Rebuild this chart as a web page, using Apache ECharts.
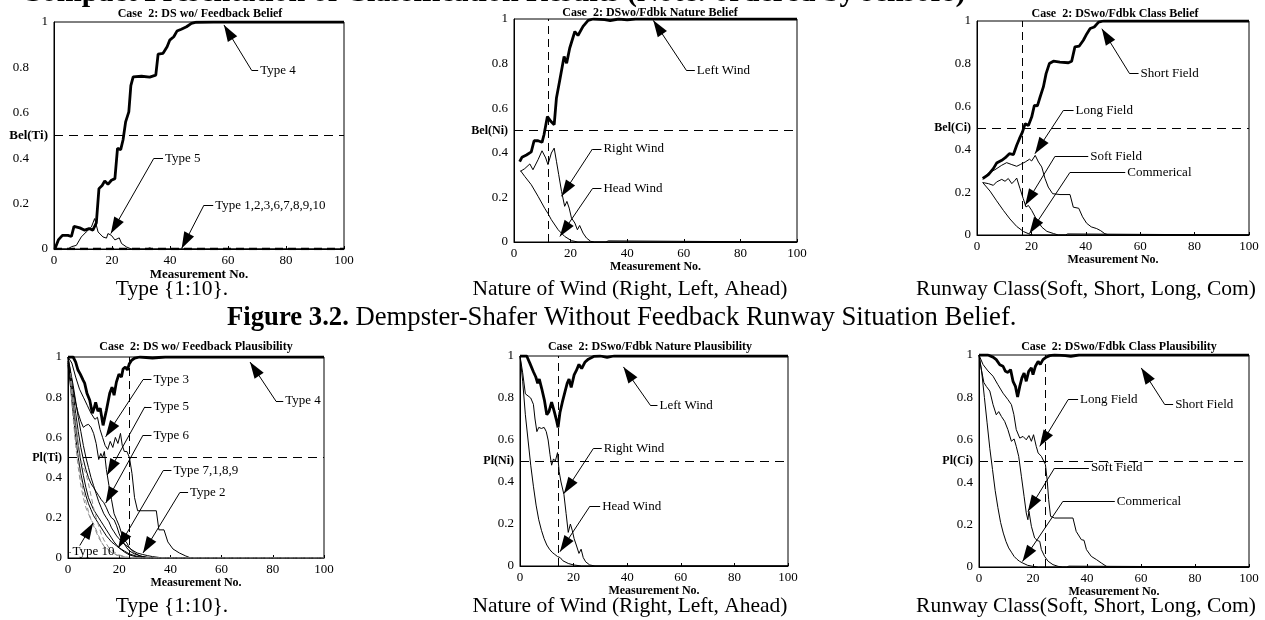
<!DOCTYPE html>
<html>
<head>
<meta charset="utf-8">
<script src="https://cdn.jsdelivr.net/npm/echarts@6/dist/echarts.min.js"></script>
<style>
  html, body { margin: 0; padding: 0; background: #fff; }
  #main { width: 1265px; height: 620px; }
</style>
</head>
<body>
<div id="main"></div>
<script>
// ---------- values ----------
var xTicks = [0, 20, 40, 60, 80, 100];
var yTickLabels = ['0', '0.2', '0.4', '0.6', '0.8', '1'];

// Case 2, DS wo/ feedback belief (type)
var p1Type4 = [[0.3,0],[1.5,0.04],[2.9,0.06],[4.8,0.06],[6,0.055],[6.9,0.1],[8.9,0.093],[10.6,0.083],[12.1,0.09],[13.4,0.083],[14.6,0.115],[15.5,0.266],[16.6,0.28],[17.5,0.3],[18.6,0.285],[19.8,0.303],[21,0.31],[21.9,0.443],[23,0.438],[23.8,0.48],[24.7,0.56],[25.8,0.604],[26.5,0.72],[27.3,0.758],[30.2,0.761],[33,0.757],[35.1,0.766],[35.9,0.858],[37.6,0.862],[39,0.891],[39.9,0.92],[41.3,0.935],[42.4,0.96],[43.9,0.968],[45.7,0.979],[47.4,0.994],[49.1,0.999],[55,1],[100,1]];
var p1Type5 = [[0,0],[4.8,0],[6,0.01],[7.7,0.016],[9.4,0.053],[11.1,0.075],[12.9,0.097],[14,0.134],[15.2,0.075],[16.9,0.053],[18.1,0.048],[18.6,0.068],[19.8,0.06],[21,0.04],[22.5,0.049],[23.3,0.024],[25,0.009],[26.7,0],[32,0],[33,0.005],[34,0],[100,0]];
var p1Rest = [[0,0],[100,0]];

// nature belief
var p2Left = [[2,0.36],[2.8,0.38],[4.4,0.39],[6.1,0.404],[7.1,0.454],[8.5,0.454],[9.9,0.447],[10.6,0.481],[11.8,0.563],[13,0.541],[14.2,0.526],[15,0.646],[16.2,0.728],[17.7,0.832],[18.6,0.802],[19.7,0.87],[21.5,0.944],[22.6,0.926],[24.4,0.967],[26.2,0.994],[28,1],[32,0.997],[34,0.993],[37,1],[40,0.996],[43,1],[100,1]];
var p2Right = [[2.3,0.317],[3.8,0.329],[5.6,0.35],[6.7,0.324],[8.5,0.369],[9.9,0.409],[11.2,0.377],[12,0.347],[13.2,0.399],[14.2,0.421],[15,0.362],[15.8,0.302],[16.8,0.227],[17.9,0.16],[18.7,0.182],[19.5,0.152],[20.3,0.108],[21.5,0.085],[22.4,0.055],[23.2,0.074],[24.4,0.04],[25.6,0.018],[27.1,0.003],[28.5,0],[32.5,0],[33.3,0.005],[34,0],[100,0]];
var p2Head = [[2.3,0.32],[3.8,0.294],[6.1,0.257],[8.5,0.205],[10.9,0.15],[12,0.128],[13.2,0.1],[15.6,0.055],[17.9,0.025],[20.3,0.006],[22.6,0],[100,0]];

// class belief
var p3Short = [[2.1,0.264],[4.2,0.282],[6,0.31],[7.2,0.336],[9.1,0.349],[10.3,0.36],[11.9,0.38],[13.4,0.376],[14.6,0.419],[15.6,0.45],[16.7,0.481],[17.7,0.52],[18.9,0.512],[20.1,0.551],[21.1,0.606],[22.2,0.603],[23.2,0.645],[24.4,0.692],[25.4,0.754],[26.6,0.801],[28.1,0.812],[30.5,0.808],[33.6,0.805],[34.8,0.812],[36,0.879],[37.6,0.883],[39.1,0.91],[40.4,0.941],[41.6,0.965],[43.1,0.972],[44.7,0.995],[46.5,1],[100,1]];
var p3Long = [[2.1,0.26],[4.2,0.29],[6.6,0.305],[9.1,0.326],[10.9,0.338],[12.8,0.329],[14.6,0.321],[16,0.33],[17.7,0.341],[19.3,0.354],[20.1,0.346],[21.4,0.372],[22.6,0.341],[23.8,0.318],[25,0.264],[26.2,0.224],[27.8,0.193],[30.5,0.189],[34.2,0.189],[35.4,0.13],[37.4,0.125],[38.8,0.085],[40.3,0.055],[42,0.038],[44,0.03],[45.5,0.02],[47,0.006],[48.5,0],[100,0]];
var p3Soft = [[2.1,0.245],[4.2,0.24],[6,0.232],[7.2,0.248],[9.1,0.26],[10.3,0.251],[11.5,0.264],[12.8,0.24],[14,0.256],[14.6,0.266],[15.8,0.217],[17,0.17],[18,0.131],[18.9,0.138],[20.1,0.115],[21.4,0.084],[22.6,0.061],[23.8,0.037],[25.7,0.017],[28.1,0.007],[29.9,0],[32.5,0],[33.3,0.005],[34,0],[100,0]];
var p3Com = [[2.1,0.245],[4.8,0.205],[7.2,0.16],[9.7,0.115],[12.1,0.075],[14.6,0.04],[17.1,0.016],[19.5,0.003],[20.7,0],[100,0]];

// type plausibility
var p4Type4 = [[0,1],[2,1],[3,0.975],[3.9,0.935],[4.8,0.915],[5.9,0.885],[6.5,0.87],[7.4,0.82],[8.5,0.785],[9.5,0.72],[10.2,0.745],[10.8,0.775],[11.7,0.73],[12.6,0.745],[13.7,0.66],[15,0.735],[16.3,0.82],[17.2,0.85],[18,0.81],[18.9,0.875],[19.9,0.915],[20.9,0.9],[21.5,0.94],[22.4,0.95],[23.2,0.935],[23.9,0.965],[24.8,0.983],[26.1,0.995],[28,1],[33,0.995],[38,1],[100,1]];
var p4Type3 = [[0,1],[1.5,0.97],[3,0.9],[4.5,0.84],[6,0.8],[7.5,0.76],[9,0.72],[10.5,0.69],[11.5,0.7],[12.5,0.64],[13.5,0.6],[14.5,0.56],[15.5,0.54],[16.5,0.58],[17.5,0.55],[18.5,0.6],[19.5,0.57],[20.5,0.62],[21.2,0.56],[22,0.53],[23,0.53],[24,0.5],[25,0.42],[26,0.3],[27.2,0.235],[34.5,0.235],[35.5,0.14],[37.5,0.14],[39,0.08],[41,0.045],[43.5,0.025],[46,0.01],[48,0],[100,0]];
var p4Type5 = [[0,1],[1,0.92],[2,0.84],[3,0.77],[4,0.72],[5,0.68],[6,0.65],[7,0.66],[8,0.665],[9,0.65],[10,0.62],[11,0.57],[12,0.49],[12.8,0.52],[13.5,0.5],[14.2,0.53],[15,0.44],[16,0.36],[17,0.29],[18,0.22],[19,0.19],[20,0.16],[21,0.12],[22,0.09],[23,0.075],[24,0.05],[26,0.025],[28,0.01],[31,0.002],[34,0],[100,0]];
var p4Type6 = [[0,0.97],[1,0.9],[2,0.82],[3,0.72],[4,0.63],[5,0.55],[6,0.49],[7,0.44],[8,0.4],[9,0.37],[10,0.35],[11,0.33],[12,0.31],[13,0.29],[14,0.275],[15,0.25],[16,0.22],[17,0.2],[18,0.19],[19,0.16],[20,0.12],[21,0.09],[22,0.07],[23,0.05],[24,0.035],[26,0.02],[29,0.008],[33,0],[100,0]];
var p4Type7 = [[0,0.98],[1,0.88],[2,0.77],[3,0.66],[4,0.56],[5,0.48],[6,0.41],[7,0.35],[8,0.3],[9,0.27],[10,0.24],[11,0.22],[12,0.2],[13,0.18],[14,0.16],[15,0.14],[16,0.12],[17,0.1],[18,0.08],[19,0.065],[20,0.05],[21,0.04],[22,0.03],[24,0.015],[27,0.005],[30,0],[100,0]];
var p4Type1 = [[0,0.96],[1,0.85],[2,0.72],[3,0.6],[4,0.5],[5,0.42],[6,0.36],[7,0.31],[8,0.27],[9,0.24],[10,0.21],[11,0.19],[12,0.17],[13,0.15],[14,0.13],[15,0.11],[16,0.095],[17,0.08],[18,0.07],[19,0.06],[20,0.05],[22,0.035],[24,0.02],[27,0.008],[31,0],[100,0]];
var p4Type2 = [[0,1],[1,0.93],[2,0.86],[3,0.78],[4,0.7],[5,0.63],[6,0.56],[7,0.5],[8,0.45],[9,0.4],[10,0.36],[11,0.32],[12,0.28],[13,0.25],[14,0.22],[15,0.2],[16,0.18],[17,0.15],[18,0.13],[19,0.11],[20,0.095],[21,0.08],[22,0.07],[23,0.06],[24,0.05],[25,0.04],[27,0.025],[29,0.018],[31,0.012],[33,0.007],[36,0.002],[40,0],[100,0]];
var p4Type8 = [[1,0.92],[2,0.8],[3,0.68],[4,0.57],[5,0.49],[6,0.45],[7,0.42],[8,0.37],[9,0.31],[10,0.25],[11,0.2],[12,0.16],[13,0.12],[14,0.09],[15,0.07],[16,0.05],[18,0.03],[20,0.015],[23,0.005],[26,0],[100,0]];
var p4Type9 = [[1,0.88],[2,0.74],[3,0.6],[4,0.48],[5,0.4],[6,0.33],[7,0.28],[8,0.23],[9,0.19],[10,0.16],[11,0.13],[12,0.1],[13,0.08],[14,0.06],[15,0.045],[16,0.035],[18,0.02],[20,0.01],[24,0],[100,0]];
var p4Type10 = [[1,0.85],[2,0.7],[3,0.56],[4,0.45],[5,0.36],[6,0.3],[7,0.25],[8,0.22],[9,0.19],[10,0.17],[11,0.14],[12,0.11],[13,0.08],[14,0.06],[15,0.05],[16,0.04],[17,0.03],[19,0.015],[22,0.005],[25,0],[100,0]];

// nature plausibility
var p5Left = [[0,1],[2.5,1],[3.7,0.965],[5,0.925],[5.9,0.9],[6.6,0.87],[7.2,0.89],[8.1,0.845],[9.1,0.79],[10,0.72],[10.8,0.735],[11.8,0.78],[12.8,0.735],[13.7,0.69],[14.2,0.66],[14.9,0.73],[15.8,0.78],[16.8,0.83],[17.6,0.87],[18.3,0.89],[19.1,0.85],[20.2,0.91],[21,0.93],[22,0.96],[23,0.94],[24.2,0.97],[25.5,0.985],[27.5,0.998],[30,1],[32.5,0.993],[35,1],[100,1]];
var p5Right = [[0,1],[1,0.92],[2,0.82],[3,0.81],[4,0.8],[5,0.77],[5.6,0.7],[6.3,0.64],[7,0.66],[8,0.655],[9,0.66],[9.8,0.64],[10.5,0.6],[11.2,0.53],[11.8,0.48],[12.5,0.51],[13.2,0.5],[14,0.54],[14.6,0.45],[15.3,0.4],[16.4,0.34],[17.2,0.25],[18,0.16],[18.8,0.2],[19.5,0.17],[20.2,0.13],[21,0.1],[22,0.06],[22.8,0.08],[23.6,0.04],[24.5,0.02],[26,0.005],[28,0],[32.5,0],[33,0.005],[34,0],[100,0]];
var p5Head = [[0,1],[1,0.88],[2,0.72],[3,0.6],[4,0.48],[5,0.38],[6,0.29],[7,0.22],[8,0.17],[9,0.13],[10,0.1],[11,0.08],[12,0.065],[13,0.055],[14,0.045],[15,0.04],[16,0.025],[18,0.012],[20,0.005],[23,0],[100,0]];

// class plausibility
var p6Short = [[0,1],[3.3,1],[5.2,0.99],[6.4,0.978],[7.7,0.954],[8.9,0.947],[9.8,0.923],[10.7,0.918],[11.7,0.931],[12.6,0.876],[13.5,0.852],[14.3,0.802],[15.1,0.852],[15.9,0.892],[16.7,0.915],[17.5,0.876],[18.4,0.923],[19.4,0.94],[20,0.907],[20.9,0.947],[21.9,0.97],[22.7,0.956],[23.7,0.978],[24.9,0.99],[26.2,0.997],[28,1],[32,0.997],[34,0.993],[37,1],[100,1]];
var p6Long = [[0,1],[1.5,0.955],[3.3,0.925],[5.2,0.9],[7,0.86],[8.9,0.82],[10.7,0.79],[12,0.766],[12.9,0.72],[13.8,0.648],[15.1,0.608],[16.3,0.616],[17.5,0.6],[18.5,0.62],[19.4,0.593],[20.2,0.624],[21.2,0.569],[21.9,0.538],[23.1,0.522],[23.7,0.514],[24.6,0.483],[25.3,0.404],[25.8,0.318],[26.5,0.239],[28,0.231],[34.8,0.231],[36,0.168],[37.9,0.129],[38.9,0.126],[39.8,0.082],[41.6,0.05],[43.5,0.035],[45.3,0.019],[47.2,0.003],[48.5,0],[100,0]];
var p6Soft = [[0,1],[0.9,0.93],[1.8,0.87],[2.7,0.852],[4,0.83],[5.2,0.766],[6.4,0.718],[7.3,0.733],[8.3,0.71],[9.5,0.687],[10.7,0.648],[12,0.593],[13,0.604],[13.8,0.569],[14.7,0.522],[15.7,0.428],[16.7,0.333],[17.5,0.255],[18.1,0.223],[18.5,0.263],[19.4,0.192],[20.6,0.137],[21.6,0.125],[22.5,0.121],[23.1,0.082],[24.3,0.05],[25.6,0.027],[27.4,0.011],[29.3,0.003],[31,0],[32.5,0],[33.3,0.004],[34,0],[100,0]];
var p6Com = [[0,1],[1,0.92],[2,0.8],[3,0.68],[4,0.56],[5,0.46],[6,0.36],[7,0.28],[8,0.21],[9,0.16],[10,0.12],[11,0.09],[12,0.07],[13,0.05],[14,0.037],[15,0.027],[16,0.02],[18,0.008],[20,0.003],[22,0],[100,0]];

// arrow notes: [text, textX, textY, bendX, tipX, tipY, (arrowFromX, arrowFromY)]
var p1Notes = [['Type 4', 70.4, 0.788, 68.1, 58.6, 0.987], ['Type 5', 37.6, 0.399, 34.4, 19.6, 0.068], ['Type 1,2,3,6,7,8,9,10', 54.9, 0.193, 51.7, 44, 0.002]];
var p2Notes = [['Left Wind', 63.9, 0.768, 61, 49.2, 0.994], ['Right Wind', 30.9, 0.417, 27.7, 16.8, 0.205], ['Head Wind', 30.9, 0.239, 27.7, 16.2, 0.025]];
var p3Notes = [['Short Field', 59.4, 0.754, 56.1, 45.9, 0.964], ['Long Field', 35.5, 0.583, 31.8, 21.3, 0.38], ['Soft Field', 40.9, 0.368, 28.7, 17.7, 0.139], ['Commerical', 54.5, 0.291, 34.1, 19.3, 0.007]];
var p4Notes = [['Type 3', 32.6, 0.887, 29.3, 14.7, 0.603], ['Type 5', 32.6, 0.752, 30, 15.3, 0.413], ['Type 6', 32.6, 0.611, 29.3, 14.7, 0.273], ['Type 7,1,8,9', 40.4, 0.435, 37.2, 19.6, 0.05], ['Type 2', 46.9, 0.326, 43.7, 29.3, 0.025], ['Type 4', 84.1, 0.781, 81.2, 71.1, 0.975], ['Type 10', 1.0, 0.03, 0.6, 9.8, 0.174, 4.6, 0.062]];
var p5Notes = [['Left Wind', 51.3, 0.766, 48.6, 38.6, 0.948], ['Right Wind', 30.5, 0.56, 27.4, 16.4, 0.345], ['Head Wind', 29.9, 0.285, 26.1, 14.9, 0.068]];
var p6Notes = [['Short Field', 71.9, 0.766, 68.8, 60.1, 0.939], ['Long Field', 36.7, 0.789, 33, 22.5, 0.569], ['Soft Field', 40.7, 0.467, 28, 18.1, 0.262], ['Commerical', 50.3, 0.31, 31.1, 16.1, 0.026]];

// ---------- layout ----------
var FONT = "'Liberation Serif', 'Times New Roman', serif";
// filled triangle whose tip sits at the centre of its 33x33 box
var ARROW = 'path://M16.5,16.5 L22,33 L11,33 Z M0,0 M33,0';

var panels = [
  {rect: [54, 22, 290, 227], title: 'Case  2: DS wo/ Feedback Belief', tx: 200, ty: 14, yName: 'Bel(Ti)', fs: 13, decShift: 19, nameGap: 17, vLine: null,
   lines: [['Type 4', p1Type4, 'thick'], ['Type 5', p1Type5, 'thin'], ['Type 1,2,3,6,7,8,9,10', p1Rest, 'dashThick']], notes: p1Notes},
  {rect: [514, 19, 283, 223], title: 'Case  2: DSwo/Fdbk Nature Belief', tx: 650, ty: 13, yName: 'Bel(Ni)', fs: 12, nameGap: 18, vLine: 12,
   lines: [['Left Wind', p2Left, 'thick'], ['Right Wind', p2Right, 'thin'], ['Head Wind', p2Head, 'thin']], notes: p2Notes},
  {rect: [977, 21, 272, 214], title: 'Case  2: DSwo/Fdbk Class Belief', tx: 1115, ty: 14, yName: 'Bel(Ci)', fs: 12, nameGap: 14, vLine: 16.8,
   lines: [['Short Field', p3Short, 'thick'], ['Long Field', p3Long, 'thin'], ['Soft Field', p3Soft, 'thin'], ['Commerical', p3Com, 'thin']], notes: p3Notes},
  {rect: [68, 357, 256, 201], title: 'Case  2: DS wo/ Feedback Plausibility', tx: 196, ty: 347, yName: 'Pl(Ti)', fs: 12, nameGap: 19, vLine: 23.9,
   lines: [['Type 4', p4Type4, 'thick'], ['Type 3', p4Type3, 'thin'], ['Type 5', p4Type5, 'thin'], ['Type 6', p4Type6, 'thin'], ['Type 7', p4Type7, 'thin'], ['Type 1', p4Type1, 'thin'], ['Type 2', p4Type2, 'thin'], ['Type 8', p4Type8, 'gray'], ['Type 9', p4Type9, 'gray'], ['Type 10', p4Type10, 'gray']], notes: p4Notes},
  {rect: [520, 356, 268, 210], title: 'Case  2: DSwo/Fdbk Nature Plausibility', tx: 650, ty: 347, yName: 'Pl(Ni)', fs: 12, nameGap: 15, vLine: 14.3,
   lines: [['Left Wind', p5Left, 'thick'], ['Right Wind', p5Right, 'thin'], ['Head Wind', p5Head, 'thin']], notes: p5Notes},
  {rect: [979, 355, 270, 212], title: 'Case  2: DSwo/Fdbk Class Plausibility', tx: 1119, ty: 347, yName: 'Pl(Ci)', fs: 12, nameGap: 16, vLine: 24.7,
   lines: [['Short Field', p6Short, 'thick'], ['Long Field', p6Long, 'thin'], ['Soft Field', p6Soft, 'thin'], ['Commerical', p6Com, 'thin']], notes: p6Notes}
];

function lineStyleFor(kind) {
  if (kind === 'thick') return {color: '#000', width: 2.8, type: 'solid'};
  if (kind === 'gray') return {color: '#8f8f8f', width: 1, type: [5, 3]};
  if (kind === 'dashThick') return {color: '#000', width: 2.4, type: [8, 5]};
  return {color: '#000', width: 1, type: 'solid'};
}

function noteLines(notes, fs) {
  var out = [];
  notes.forEach(function (n) {
    var ax = n.length > 6 ? n[6] : n[3];
    var ay = n.length > 6 ? n[7] : n[2];
    out.push([
      {coord: [n[3], n[2]], label: {show: true, position: 'end', distance: 2, formatter: n[0], color: '#000', fontFamily: FONT, fontSize: fs}},
      {coord: [n[1], n[2]]}
    ]);
    out.push([
      {coord: [ax, ay]},
      {coord: [n[4], n[5]], symbol: ARROW, symbolSize: 33}
    ]);
  });
  return out;
}

var option = {
  animation: false,
  backgroundColor: '#fff',
  grid: [], xAxis: [], yAxis: [], series: [], graphic: []
};

panels.forEach(function (p, i) {
  option.grid.push({left: p.rect[0], top: p.rect[1], width: p.rect[2], height: p.rect[3],
    show: true, borderColor: '#000', borderWidth: 1, backgroundColor: 'transparent', containLabel: false, outerBoundsMode: 'none'});

  option.xAxis.push({
    gridIndex: i, type: 'value', min: xTicks[0], max: xTicks[xTicks.length - 1], interval: 20,
    axisLine: {show: true, lineStyle: {color: '#000', width: 1}},
    axisTick: {show: true, inside: true, length: 3, lineStyle: {color: '#000'}},
    splitLine: {show: false},
    axisLabel: {color: '#000', fontFamily: FONT, fontSize: 13, margin: 5},
    name: 'Measurement No.', nameLocation: 'middle', nameGap: p.nameGap,
    nameTextStyle: {color: '#000', fontFamily: FONT, fontWeight: 'bold', fontSize: p.fs}
  });

  option.yAxis.push({
    gridIndex: i, type: 'value', min: 0, max: 1, interval: 0.1,
    axisLine: {show: true, lineStyle: {color: '#000', width: 1}},
    axisTick: {show: false},
    splitLine: {show: false},
    axisLabel: {
      color: '#000', fontFamily: FONT, fontSize: 13, margin: 6,
      formatter: function (v) {
        var r = Math.round(v * 10);
        if (r === 5) return '{n|' + p.yName + '}';
        if (r % 2) return '';
        var s = yTickLabels[r / 2];
        if (s.length > 1 && p.decShift) return '{d|' + s + '}';
        return s;
      },
      rich: {
        n: {fontWeight: 'bold', fontFamily: FONT, fontSize: p.fs, color: '#000'},
        d: {fontFamily: FONT, fontSize: 13, color: '#000', padding: [0, p.decShift || 0, 0, 0]}
      }
    }
  });

  p.lines.forEach(function (ln, k) {
    var s = {
      type: 'line', name: ln[0], xAxisIndex: i, yAxisIndex: i, data: ln[1],
      showSymbol: false, symbol: 'none', silent: true, animation: false,
      lineStyle: lineStyleFor(ln[2]), z: ln[2] === 'thick' ? 4 : 3
    };
    if (k === 0) {
      var ml = [{yAxis: 0.5, lineStyle: {type: [9, 6], color: '#000', width: 1}}];
      if (p.vLine !== null) ml.push({xAxis: p.vLine, lineStyle: {type: [8, 5], color: '#000', width: 1}});
      s.markLine = {
        silent: true, animation: false, symbol: ['none', 'none'], precision: 3,
        label: {show: false},
        lineStyle: {color: '#000', width: 1, type: 'solid'},
        emphasis: {disabled: true},
        data: ml.concat(noteLines(p.notes, 13))
      };
    }
    option.series.push(s);
  });

  option.graphic.push({type: 'text', x: p.tx, y: p.ty, silent: true,
    style: {text: p.title, fill: '#000', font: 'bold 12px ' + FONT, align: 'center', verticalAlign: 'middle'}});
});

// captions under each panel
var captions = [
  ['Type {1:10}.', 172, 289], ['Nature of Wind (Right, Left, Ahead)', 630, 289], ['Runway Class(Soft, Short, Long, Com)', 1086, 289],
  ['Type {1:10}.', 172, 606], ['Nature of Wind (Right, Left, Ahead)', 630, 606], ['Runway Class(Soft, Short, Long, Com)', 1086, 606]
];
captions.forEach(function (c) {
  option.graphic.push({type: 'text', x: c[1], y: c[2], silent: true,
    style: {text: c[0], fill: '#000', font: '21.5px ' + FONT, align: 'center', verticalAlign: 'middle'}});
});

option.graphic.push({type: 'text', x: 227, y: 318, silent: true,
  style: {text: '{b|Figure 3.2.} Dempster-Shafer Without Feedback Runway Situation Belief.', fill: '#000',
    font: '26.7px ' + FONT, align: 'left', verticalAlign: 'middle',
    rich: {b: {fontWeight: 'bold', fontSize: 26.7, fontFamily: FONT, fill: '#000'}}}});

// heading cut off at the top edge
option.graphic.push({type: 'text', x: 20, y: 8, silent: true,
  style: {text: 'Compact Presentation of Classification Results (Note: ordered by sensors)', fill: '#000',
    font: 'bold 30px ' + FONT, align: 'left', verticalAlign: 'bottom'}});

var chart = echarts.init(document.getElementById('main'), null, {renderer: 'canvas'});
chart.setOption(option);
</script>
</body>
</html>
